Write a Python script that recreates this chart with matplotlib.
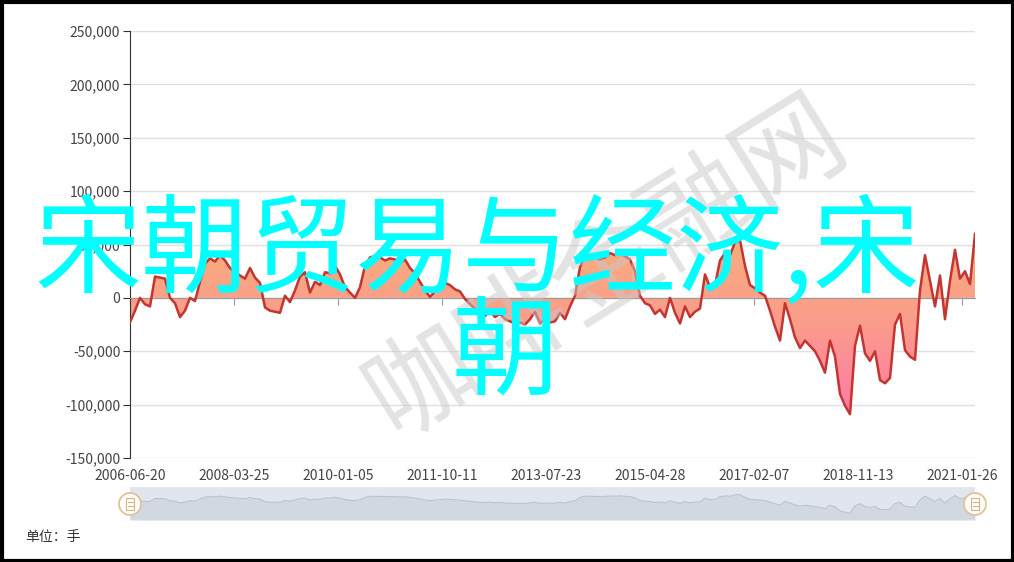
import numpy as np
import matplotlib
matplotlib.use('Agg')
import matplotlib.pyplot as plt
from matplotlib.colors import LinearSegmentedColormap
from matplotlib.patches import Circle, Rectangle
import matplotlib.transforms as mtransforms

plt.rcParams['font.family'] = ['Noto Sans CJK SC', 'DejaVu Sans']

# values (unit: 手), evenly spaced along the category axis
values = [
    -23000, -12000, 0, -6000, -8000, 20000, 19000, 18000, 0, -5000,
    -18000, -12000, 0, -3000, 15000, 32000, 37000, 34000, 40000, 35000,
    28000, 24000, 21000, 18000, 28000, 19000, 14000, -9000, -12000, -13000,
    -14000, 2000, -4000, 7000, 20000, 24000, 5000, 15000, 12000, 24000,
    23000, 30000, 22000, 10000, 5000, 0, 10000, 30000, 38000, 39000,
    38000, 35000, 37000, 36000, 33000, 36000, 28000, 23000, 15000, 7000,
    1000, 6000, 9000, 14000, 12000, 8000, 6000, -1000, -6000, -10000,
    -13000, -17000, -12000, -18000, -15000, -20000, -22000, -24000, -23000, -25000,
    -20000, -13000, -24000, -20000, -23000, -22000, -14000, -20000, -8000, 2000,
    29000, 39000, 40000, 38000, 36000, 38000, 42000, 40000, 43000, 39000,
    36000, 25000, 2000, -5000, -7000, -15000, -11000, -18000, 0, -14000,
    -24000, -8000, -18000, -13000, -10000, 22000, 10000, 12000, 35000, 42000,
    40000, 52000, 54000, 30000, 12000, 9000, 5000, 2000, -12000, -27000,
    -40000, -5000, -20000, -37000, -47000, -40000, -45000, -50000, -59000, -70000,
    -40000, -55000, -90000, -101000, -109000, -45000, -26000, -52000, -59000, -50000,
    -77000, -80000, -75000, -25000, -15000, -49000, -55000, -58000, 7000, 40000,
    16000, -8000, 21000, -20000, 16000, 45000, 18000, 25000, 13000, 60000,
]
date_labels = ['2006-06-20', '2008-03-25', '2010-01-05', '2011-10-11', '2013-07-23',
               '2015-04-28', '2017-02-07', '2018-11-13', '2021-01-26']
y_ticks = [-150000, -100000, -50000, 0, 50000, 100000, 150000, 200000, 250000]

W, H = 1014, 562
fig = plt.figure(figsize=(W / 100, H / 100), dpi=100)
fig.patch.set_facecolor('white')

x = np.arange(len(values))
vals = np.array(values, dtype=float)

# main chart
ax = fig.add_axes([130 / W, 1 - 458 / H, 845 / W, 427 / H])
ax.set_xlim(0, len(values) - 1)
ax.set_ylim(-150000, 250000)
ax.set_yticks(y_ticks)
ax.set_yticklabels(['{:,}'.format(v) for v in y_ticks], fontsize=10, color='#444')
ax.yaxis.grid(True, color='#e0e0e0', linewidth=1)
ax.set_axisbelow(True)
for s in ['top', 'right']:
    ax.spines[s].set_visible(False)
ax.spines['left'].set_color('#333')
ax.spines['bottom'].set_position(('data', 0))
ax.spines['bottom'].set_color('#999')
ax.tick_params(axis='y', length=5, color='#333', pad=2)
step = (len(values) - 1) * 104 / 845
tick_pos = np.arange(len(date_labels)) * step
ax.set_xticks(tick_pos)
ax.set_xticklabels([])
ax.tick_params(axis='x', length=5, color='#999', direction='out')
trans = mtransforms.blended_transform_factory(ax.transData, ax.transAxes)
for p, lab in zip(tick_pos, date_labels):
    ax.text(p, -0.042, lab, transform=trans, ha='center', va='center', fontsize=10, color='#444')

# gradient area between line and zero
poly = ax.fill_between(x, vals, 0, facecolor='none', edgecolor='none')
cmap = LinearSegmentedColormap.from_list('area', ['#ff7aa8', '#fb9c8c', '#f8ae7c'])
grad = np.linspace(0, 1, 256).reshape(-1, 1)
im = ax.imshow(grad, cmap=cmap, origin='lower', aspect='auto',
               extent=[0, len(values) - 1, -110000, 62000], zorder=1.5)
im.set_clip_path(poly.get_paths()[0], transform=ax.transData)
ax.set_xlim(0, len(values) - 1)
ax.set_ylim(-150000, 250000)
ax.plot(x, vals, color='#c23531', linewidth=1.8, zorder=3)

# data zoom slider
sl = fig.add_axes([130 / W, 1 - 520 / H, 845 / W, 33 / H])
sl.set_facecolor('#e1e5ed')
sl.set_xlim(0, len(values) - 1)
sl.set_ylim(-170000, 121000)
sl.fill_between(x, vals, -170000, color='#d2d8e1', linewidth=0)
sl.plot(x, vals, color='#bcc3cf', linewidth=0.8)
sl.set_xticks([])
sl.set_yticks([])
for s in sl.spines.values():
    s.set_visible(False)

# overlay in pixel coordinates
ov = fig.add_axes([0, 0, 1, 1], zorder=10)
ov.set_xlim(0, W)
ov.set_ylim(H, 0)
ov.axis('off')
ov.patch.set_alpha(0)

for cx in [130, 975]:
    ov.add_patch(Circle((cx, 504), 11, facecolor='white', edgecolor='#e0bf8f', linewidth=1.2))
    ov.add_patch(Rectangle((cx - 4, 498), 8, 12, facecolor='white', edgecolor='#d9b37a', linewidth=0.8))
    ov.plot([cx - 2.5, cx + 2.5], [502, 502], color='#d9b37a', linewidth=0.8)
    ov.plot([cx - 2.5, cx + 2.5], [506, 506], color='#d9b37a', linewidth=0.8)

ov.text(25, 537, '单位：手', fontsize=10, color='#333', ha='left', va='center')

# watermark
ov.text(607, 268, '咖啡金融网', fontsize=78, color='#c8c8c8', alpha=0.5,
        rotation=32, ha='center', va='center', rotation_mode='anchor')

# overlaid title text
ov.text(34, 253, '宋朝贸易与经济,宋', fontsize=77, color='#00ffff', ha='left', va='center')
ov.text(505, 356, '朝', fontsize=77, color='#00ffff', ha='center', va='center')

# outer frame
ov.add_patch(Rectangle((1.5, 1.5), W - 3, H - 3, facecolor='none', edgecolor='black', linewidth=3))

fig.savefig('out.png', dpi=100)
